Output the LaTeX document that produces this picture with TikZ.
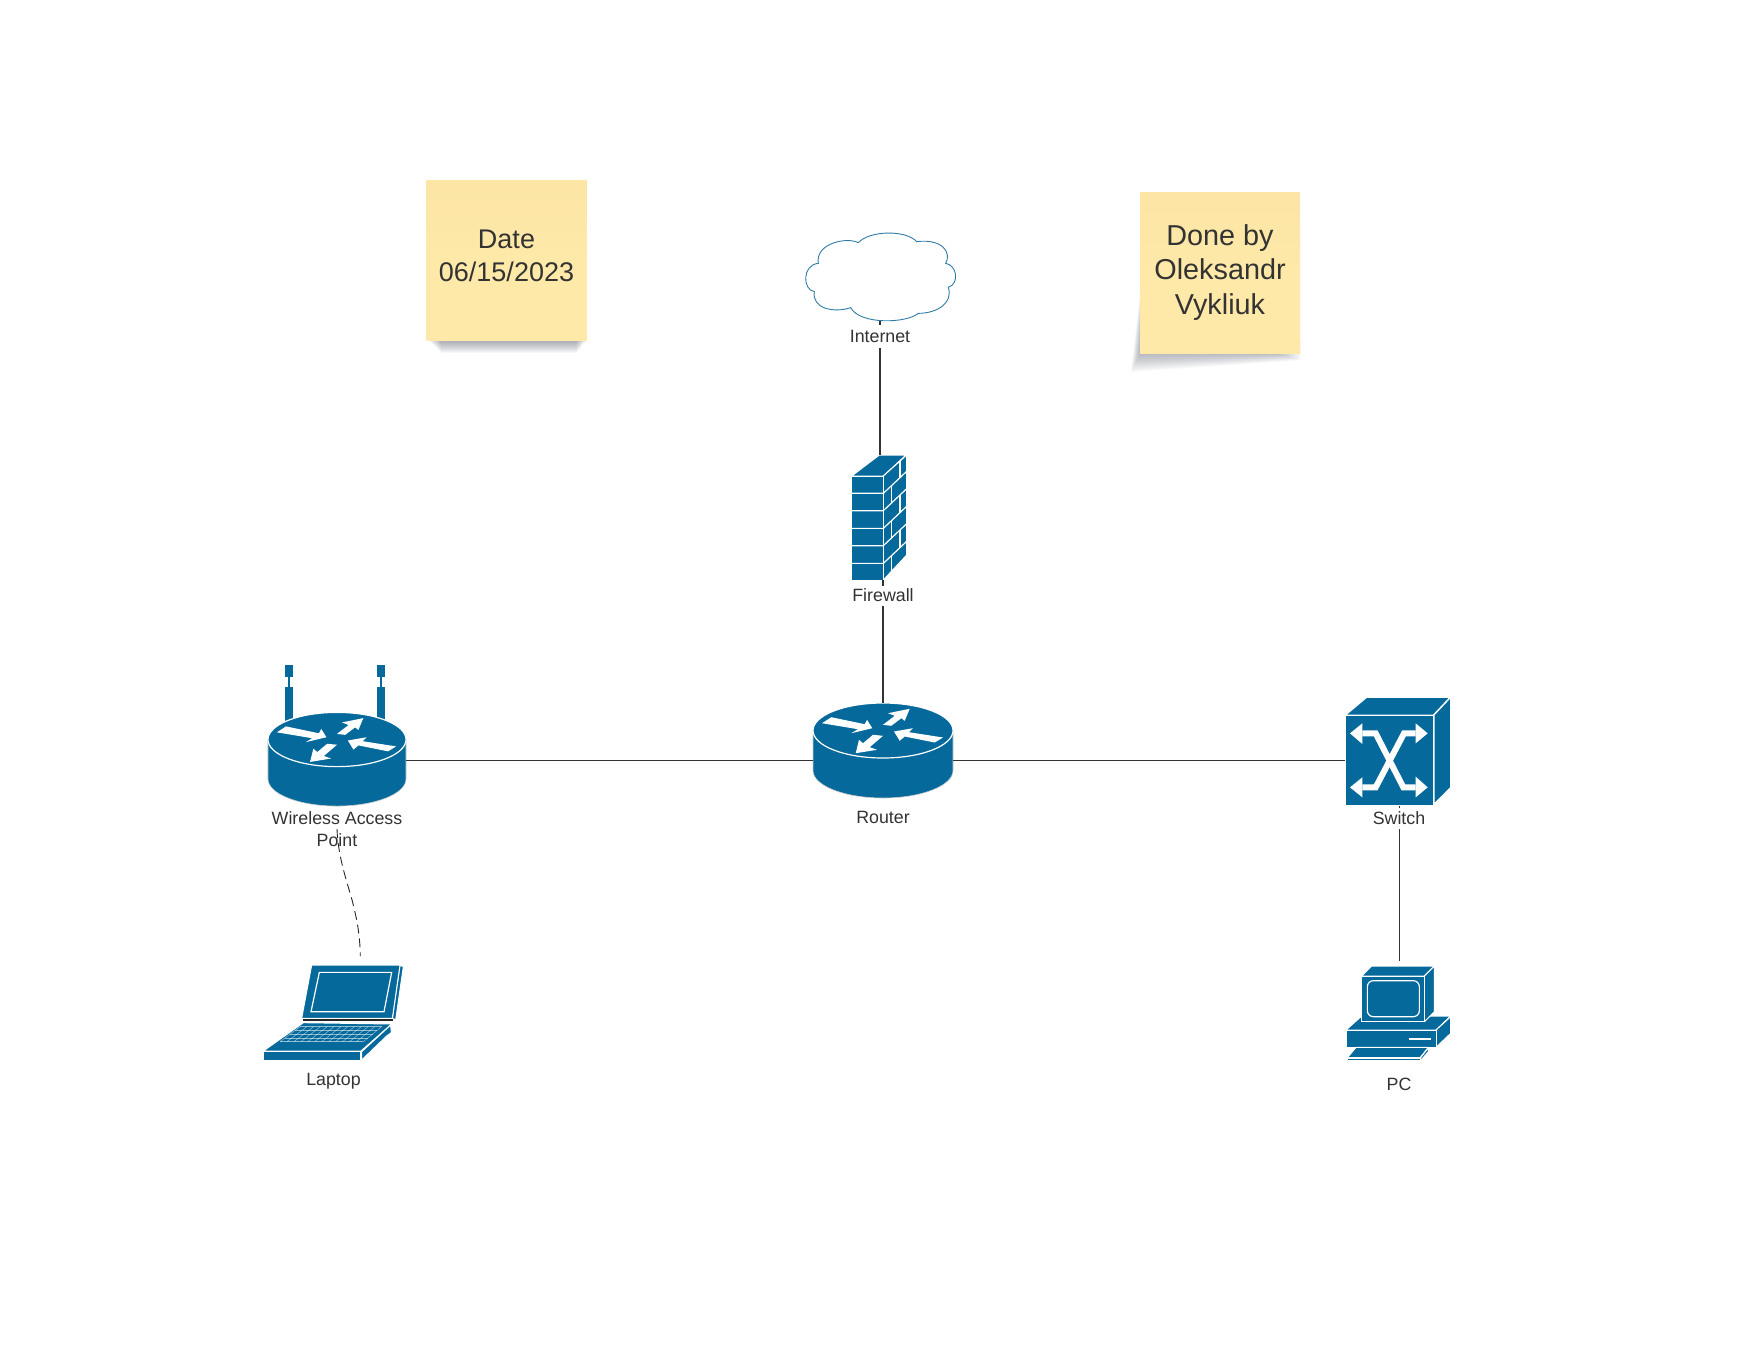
\documentclass[tikz,border=0pt]{standalone}
\usepackage{fontspec}
\setmainfont{Liberation Sans}
\usetikzlibrary{positioning,fit}
\definecolor{netblue}{HTML}{05699C}
\definecolor{inktext}{HTML}{333333}
\definecolor{notefill}{HTML}{FEE9A8}
\definecolor{noteedge}{HTML}{FCE5A5}
\definecolor{cloudline}{HTML}{2F7DA6}
\definecolor{noteshade}{HTML}{565B68}
\begin{document}
\begin{tikzpicture}
		[x=0.5pt,y=-0.5pt,
		zoomed/.style ={x=0.16667pt,y=-0.16667pt},
		iconbox/.style ={inner sep=0pt, outer sep=0pt},
		body/.style ={fill=netblue, draw=white, line width=0.5pt, line join=round},
		white line/.style ={draw=white, line width=0.6pt},
		wire/.style ={draw=inktext, line width=0.55pt},
		radio/.style ={draw=black!85, line width=0.45pt, dash pattern=on 4.5pt off 2.5pt},
		tag/.style ={font=\fontsize{8.9}{10.8}\selectfont, text=inktext, fill=white, align=center, inner sep=1pt, minimum height=10.5pt},
		sticky/.style ={minimum width=80pt, minimum height=80pt, inner sep=0pt, align=center, text=inktext, top color=noteedge, bottom color=notefill, middle color=notefill},
		routerdisc/.pic ={
			\fill[netblue, draw=black!20, line width=0.3pt] (-70,0) -- (-70,40) arc[start angle=180,end angle=0,x radius=70,y radius=27.5] -- (70,0) -- cycle;
			\path[fill=netblue, draw=white, line width=0.6pt] (0,0) ellipse[x radius=70,y radius=27.5];
			\fill[white] (-51.7,-13.3) -- (-18.3,-6.3) -- (-16,-10.7) -- (-10.7,-2.3) -- (-31.7,2.7) -- (-25,-1.3) -- (-61,-7.3) -- cycle;
			\fill[white] (0,-5.7) -- (11.7,-14.7) -- (5,-17.3) -- (26.7,-21.7) -- (21.7,-9.7) -- (18.3,-12.3) -- (8.3,-4.7) -- cycle;
			\fill[white] (11,1) -- (30,-2.3) -- (26,1.7) -- (60,7) -- (51.7,12) -- (21.7,6) -- (16.7,10.3) -- cycle;
			\fill[white] (-10,4.3) -- (0,5.3) -- (-13.3,16.7) -- (-6,19.3) -- (-27.3,22.7) -- (-24,9.3) -- (-20,12.7) -- cycle;
		}]
		\useasboundingbox (0,0) rectangle (1760,1360);

		% sticky notes
		\foreach \i in {0,...,13}
			\fill[noteshade, opacity=0.05] (428+\i,330) rectangle (587-\i*0.8,340+\i);
		\foreach \i in {0,...,13}
			\fill[noteshade, opacity=0.04] (1141,285+\i*3) -- (1131+\i*0.7,372-\i*1.4) -- (1301-\i*2,360-\i*0.5) -- (1301-\i*2,340) -- cycle;
		\node[sticky, font=\fontsize{13.5}{16.5}\selectfont] (dateNote) at (506.5,260) {Date\\06/15/2023\rule[-4pt]{0pt}{1pt}};
		\node[sticky, minimum height=80.5pt, font=\fontsize{14.4}{17.4}\selectfont] (doneNote) at (1220,272.5) {Done by\\Oleksandr\\Vykliuk};

		% devices
		\node[iconbox, minimum width=76pt, minimum height=44pt] (internet) at (880,276) {};
		\begin{scope}[shift={(780,200)},zoomed]
			\path[fill=white, draw=cloudline, line width=0.45pt] (235,128)
				.. controls (270,90) and (380,90) .. (410,125)
				.. controls (490,115) and (515,160) .. (497,190)
				.. controls (530,195) and (540,250) .. (505,262)
				.. controls (520,310) and (470,340) .. (415,340)
				.. controls (380,370) and (240,375) .. (212,323)
				.. controls (160,340) and (95,325) .. (103,275)
				.. controls (68,270) and (65,195) .. (115,190)
				.. controls (105,130) and (200,110) .. (235,128) -- cycle;
		\end{scope}

		\node[iconbox, minimum width=27.5pt, minimum height=62.5pt] (firewall) at (879.3,517.5) {};
		\begin{scope}[shift={(780,200)},zoomed]
			\path[body] (215,828) -- (298,765) -- (378,765) -- (310,828) -- cycle;
			\path[body] (310,828) -- (380,765) -- (380,1065) -- (310,1140) -- cycle;
			\path[body] (215,828) rectangle (310,1140);
			\foreach \y in {880,932,985,1037,1090}
				\draw[white line] (215,\y) -- (310,\y) -- (380,{\y-66});
			\foreach \x/\y in {360/828,335/880,360/932,335/985,360/1037,335/1090}
				\draw[white line] (\x,{\y-(\x-310)*0.92}) -- (\x,{\y+52-(\x-310)*0.92});
		\end{scope}

		\node[iconbox, minimum width=70pt, minimum height=47.5pt] (router) at (883,750.5) {};
		\pic at (883,730.5) {routerdisc};

		\node[iconbox, minimum width=69pt, minimum height=46.5pt] (accessPoint) at (337,759.2) {};
		\foreach \x in {285,377.3} {
			\fill[netblue] (\x,665) rectangle (\x+7.7,676.7);
			\fill[netblue] (\x+2.6,676.7) rectangle (\x+5.1,687);
			\fill[netblue] (\x,687) rectangle (\x+7.7,725);
		}
		\pic[scale=0.986] at (337,739.5) {routerdisc};

		\node[iconbox, minimum width=52.5pt, minimum height=54.5pt] (switch) at (1397.5,751.5) {};
		\begin{scope}[shift={(1330,680)},zoomed]
			\path[body] (47,105) -- (110,52) -- (360,52) -- (310,105) -- cycle;
			\path[body] (312,105) -- (362,52) -- (362,322) -- (312,372) -- cycle;
			\path[body] (47,105) rectangle (310,376);
			\draw[white, line width=3pt, line join=miter] (97,160) -- (137,160) -- (220,322) -- (257,322);
			\draw[white, line width=3pt, line join=miter] (257,160) -- (222,160) -- (137,322) -- (97,322);
			\fill[white] (60,160) -- (97,130) -- (97,192) -- cycle;
			\fill[white] (293,160) -- (257,130) -- (257,190) -- cycle;
			\fill[white] (60,322) -- (97,292) -- (97,352) -- cycle;
			\fill[white] (293,322) -- (257,290) -- (257,352) -- cycle;
		\end{scope}

		\node[iconbox, minimum width=70pt, minimum height=46pt] (laptop) at (333,1012) {};
		\begin{scope}[shift={(250,830)},zoomed]
			\path[body] (450,405) -- (460,410) -- (437,570) -- (427,565) -- cycle;
			\path[body] (185,405) -- (450,405) -- (427,565) -- (155,565) -- cycle;
			\draw[white line] (208,427) -- (425,427) -- (402,545) -- (183,545) -- cycle;
			\fill[black!85] (160,567) rectangle (430,572);
			\path[body] (160,578) -- (425,582) -- (333,663) -- (40,663) -- cycle;
			\path[body] (40,665) rectangle (332,692);
			\path[body] (335,665) -- (422,585) -- (424,608) -- (410,618) -- (335,690) -- cycle;
			\foreach \t in {0,...,4}
				\draw[white, opacity=0.55, line width=0.25pt] ({150-15*\t},{590+11.25*\t}) -- ({395-13.75*\t},{590+11.25*\t});
			\foreach \c in {0,...,12}
				\draw[white, opacity=0.55, line width=0.25pt] ({150+245*\c/12},590) -- ({90+250*\c/12},635);
		\end{scope}

		\node[iconbox, minimum width=52.5pt, minimum height=47.5pt] (pc) at (1398.3,1013.5) {};
		\begin{scope}[shift={(1330,950)},zoomed]
			\path[body] (48,240) -- (95,198) -- (362,198) -- (318,240) -- cycle;
			\path[body] (318,240) -- (362,200) -- (362,250) -- (318,292) -- cycle;
			\path[body] (48,240) rectangle (318,292);
			\draw[white, line width=0.9pt] (236,268) -- (303,268);
			\path[body] (95,78) -- (125,48) -- (313,48) -- (283,78) -- cycle;
			\path[body] (283,78) -- (313,48) -- (313,185) -- (283,215) -- cycle;
			\path[body] (95,78) rectangle (283,215);
			\draw[white line, rounded corners=3pt] (112,92) rectangle (268,200);
			\path[body] (78,292) -- (295,292) -- (270,323) -- (52,323) -- cycle;
			\path[body] (52,324) rectangle (270,332);
			\path[body] (272,323) -- (295,293) -- (295,305) -- (272,332) -- cycle;
		\end{scope}

		% connectors
		\path[wire]
		([yshift=-0.5pt]internet.south) edge (internet.south |- firewall.north)
		([xshift=1.85pt]firewall.south) edge (router.north)
		([yshift=-5pt]router.west -| accessPoint.east) edge ([yshift=-5pt]router.west)
		([yshift=-5pt]router.east) edge ([yshift=-5pt]router.east -| switch.west)
		([xshift=0.5pt]pc.north |- switch.south) edge ([xshift=0.5pt,yshift=2.5pt]pc.north);

		% labels
		\node[tag, minimum height=11.5pt] (internetTag) at (880,336) {Internet};
		\node[tag, minimum height=10pt] (firewallTag) at (883,595.5) {Firewall};
		\node[tag] (routerTag) at (883,817.5) {Router};
		\node[tag] (apTag) at (337,829) {Wireless Access\\Point};
		\node[tag] (switchTag) at (1399,818) {Switch};
		\node[tag] (laptopTag) at (333.5,1081.5) {Laptop};
		\node[tag] (pcTag) at (1399,1084.5) {PC};

		\coordinate (laptopEnd) at (360.3,956);
		\draw[radio] (apTag.center) .. controls (338,860) and (350,890) .. (353.3,905) .. controls (357,920) and (360,935) .. (laptopEnd);

	\end{tikzpicture}
\end{document}
